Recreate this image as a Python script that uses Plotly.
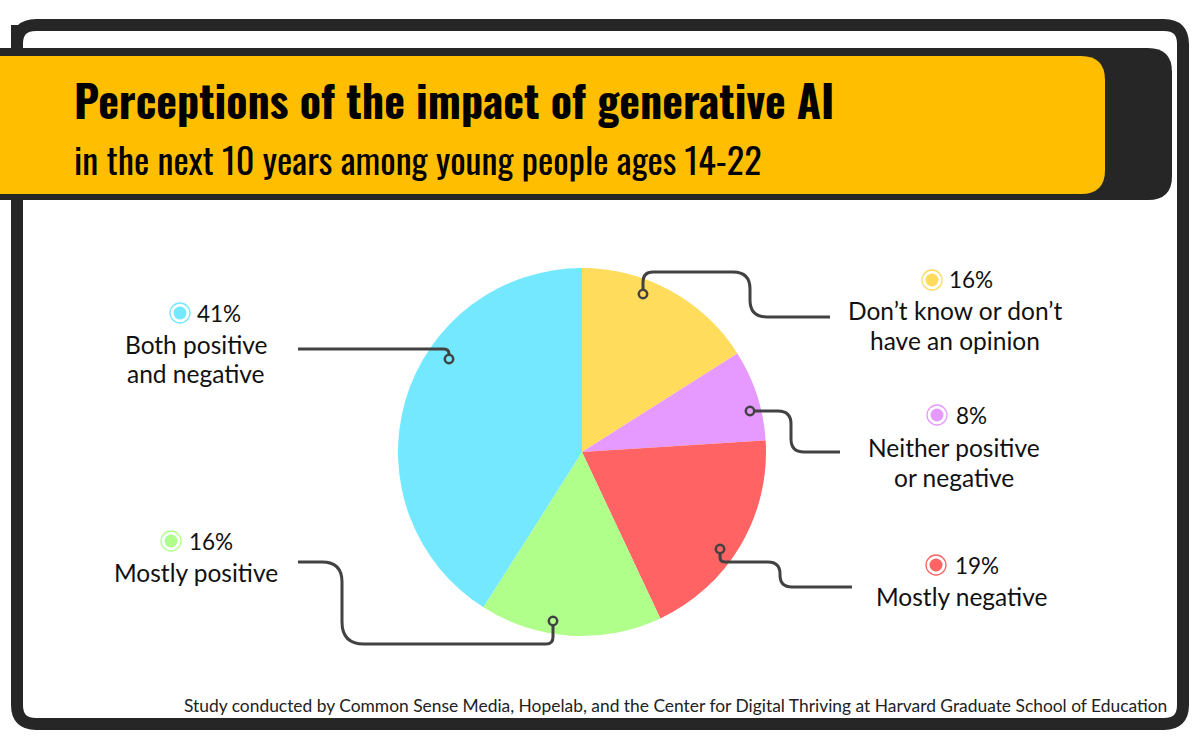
import plotly.graph_objects as go

# ---------------- data ----------------
categories = ["Don’t know or don’t have an opinion", "Neither positive or negative",
              "Mostly negative", "Mostly positive", "Both positive and negative"]
values = [16, 8, 19, 16, 41]
label_lines = [["Don’t know or don’t", "have an opinion"],
               ["Neither positive", "or negative"],
               ["Mostly negative"],
               ["Mostly positive"],
               ["Both positive", "and negative"]]
title_text = "Perceptions of the impact of generative AI"
subtitle_text = "in the next 10 years among young people ages 14-22"
source_text = ("Study conducted by Common Sense Media, Hopelab, and the Center for "
               "Digital Thriving at Harvard Graduate School of Education")

# ---------------- styles / layout ----------------
slice_colors = ["#FFDC5C", "#E699FF", "#FF6363", "#B0FF8A", "#73E8FF"]
W, H = 1200, 750
DARK = "#262626"
LINE = "#424242"
TITLE_FONT = "Oswald, 'Liberation Sans Narrow', 'DejaVu Sans Condensed', 'Roboto Condensed', Roboto, sans-serif"
LABEL_FONT = "'Glacial Indifference', Lato, 'Open Sans', sans-serif"

cx, cy, R = 582, 452, 184


def X(px):
    return px / W


def Y(py):
    return 1 - py / H


def rounded_path(pts, radii, close=False):
    out = f"M {X(pts[0][0])},{Y(pts[0][1])}"
    n = len(pts)
    rng = range(n) if close else range(1, n - 1)
    for k, i in enumerate(rng):
        prev, cur, nxt = pts[i - 1], pts[i], pts[(i + 1) % n]
        r = radii[k] if isinstance(radii, (list, tuple)) else radii
        d1 = (cur[0] - prev[0], cur[1] - prev[1])
        d2 = (nxt[0] - cur[0], nxt[1] - cur[1])
        l1 = (d1[0] ** 2 + d1[1] ** 2) ** 0.5
        l2 = (d2[0] ** 2 + d2[1] ** 2) ** 0.5
        rr = min(r, l1 / 2, l2 / 2)
        a = (cur[0] - d1[0] / l1 * rr, cur[1] - d1[1] / l1 * rr)
        b = (cur[0] + d2[0] / l2 * rr, cur[1] + d2[1] / l2 * rr)
        out += f" L {X(a[0])},{Y(a[1])} Q {X(cur[0])},{Y(cur[1])} {X(b[0])},{Y(b[1])}"
    if close:
        out += " Z"
    else:
        out += f" L {X(pts[-1][0])},{Y(pts[-1][1])}"
    return out


shapes = []

# outer frame
shapes.append(dict(type="path", xref="paper", yref="paper",
                   path=rounded_path([(17, 25), (1183, 25), (1183, 724), (17, 724)], 19, close=True),
                   line=dict(color=DARK, width=12), fillcolor="rgba(0,0,0,0)", layer="below"))
# banner dark back
shapes.append(dict(type="path", xref="paper", yref="paper",
                   path=rounded_path([(-30, 48), (1172, 48), (1172, 200), (-30, 200)], [24, 24]) + " Z",
                   line=dict(width=0), fillcolor=DARK, layer="below"))
# banner yellow
shapes.append(dict(type="path", xref="paper", yref="paper",
                   path=rounded_path([(-30, 56), (1105, 56), (1105, 194), (-30, 194)], [24, 24]) + " Z",
                   line=dict(width=0), fillcolor="#FFBE00", layer="below"))

# leader lines (positions of the callouts)
leaders = [
    ([(643, 294), (643, 272), (750, 272), (750, 317), (830, 317)], [10, 17, 17], (643, 294)),
    ([(750, 411), (791, 411), (791, 452), (840, 452)], [13, 13], (750, 411)),
    ([(720, 549), (720, 562), (780, 562), (780, 587), (852, 587)], [5, 12, 12], (720, 549)),
    ([(298, 562), (342, 562), (342, 644), (553, 644), (553, 621)], [20, 22, 7], (553, 621)),
    ([(298, 349), (449, 349), (449, 359)], [7], (449, 359)),
]
for (pts, radii, dot), col in zip(leaders, slice_colors):
    shapes.append(dict(type="path", xref="paper", yref="paper", path=rounded_path(pts, radii),
                       line=dict(color=LINE, width=3), layer="above"))
for (pts, radii, dot), col in zip(leaders, slice_colors):
    r = 4.2
    shapes.append(dict(type="circle", xref="paper", yref="paper",
                       x0=X(dot[0] - r), x1=X(dot[0] + r), y0=Y(dot[1] + r), y1=Y(dot[1] - r),
                       line=dict(color=LINE, width=2.5), fillcolor=col, layer="above"))

# label blocks: (dot center, percent left x, text center x, first text line y)
label_pos = [
    ((932, 280), 949, 955, 310),
    ((937, 415), 956, 954, 447),
    ((936, 565), 955, 961, 596),
    ((171, 541), 189, 196, 572),
    ((180, 313), 197, 196, 344),
]

annotations = []
for (dot, px, tx, ty), lines, v, col in zip(label_pos, label_lines, values, slice_colors):
    shapes.append(dict(type="circle", xref="paper", yref="paper",
                       x0=X(dot[0] - 10), x1=X(dot[0] + 10), y0=Y(dot[1] + 10), y1=Y(dot[1] - 10),
                       line=dict(color=col, width=1.3), fillcolor="white", layer="above"))
    shapes.append(dict(type="circle", xref="paper", yref="paper",
                       x0=X(dot[0] - 6.5), x1=X(dot[0] + 6.5), y0=Y(dot[1] + 6.5), y1=Y(dot[1] - 6.5),
                       line=dict(width=0), fillcolor=col, layer="above"))
    annotations.append(dict(xref="paper", yref="paper", x=X(px - 2), y=Y(dot[1]), xanchor="left",
                            yanchor="middle", text=f"{v}%", showarrow=False,
                            font=dict(family=LABEL_FONT, size=22.5, color="#111111")))
    for j, ln in enumerate(lines):
        annotations.append(dict(xref="paper", yref="paper", x=X(tx), y=Y(ty + 30 * j), xanchor="center",
                                yanchor="middle", text=ln, showarrow=False, borderpad=0,
                                font=dict(family=LABEL_FONT, size=24.5, color="#111111")))

annotations.append(dict(xref="paper", yref="paper", x=X(73), y=Y(100), xanchor="left", yanchor="middle",
                        text=f"<b>{title_text}</b>", showarrow=False, borderpad=0,
                        font=dict(family=TITLE_FONT, size=44, color="#000000")))
annotations.append(dict(xref="paper", yref="paper", x=X(73), y=Y(158), xanchor="left", yanchor="middle",
                        text=subtitle_text, showarrow=False, borderpad=0,
                        font=dict(family=TITLE_FONT, size=36.3, color="#000000")))
annotations.append(dict(xref="paper", yref="paper", x=X(1169), y=Y(705), xanchor="right", yanchor="middle",
                        text=source_text, showarrow=False,
                        font=dict(family=LABEL_FONT, size=17.4, color="#222222")))

fig = go.Figure()
fig.add_trace(go.Pie(labels=categories, values=values, sort=False, direction="clockwise", rotation=0,
                     marker=dict(colors=slice_colors, line=dict(width=0)), textinfo="none",
                     hoverinfo="label+percent", showlegend=False,
                     domain=dict(x=[X(cx - R), X(cx + R)], y=[Y(cy + R), Y(cy - R)])))
fig.update_layout(width=W, height=H, margin=dict(l=0, r=0, t=0, b=0),
                  paper_bgcolor="white", plot_bgcolor="white",
                  shapes=shapes, annotations=annotations, showlegend=False)
fig.write_html("out.html")
